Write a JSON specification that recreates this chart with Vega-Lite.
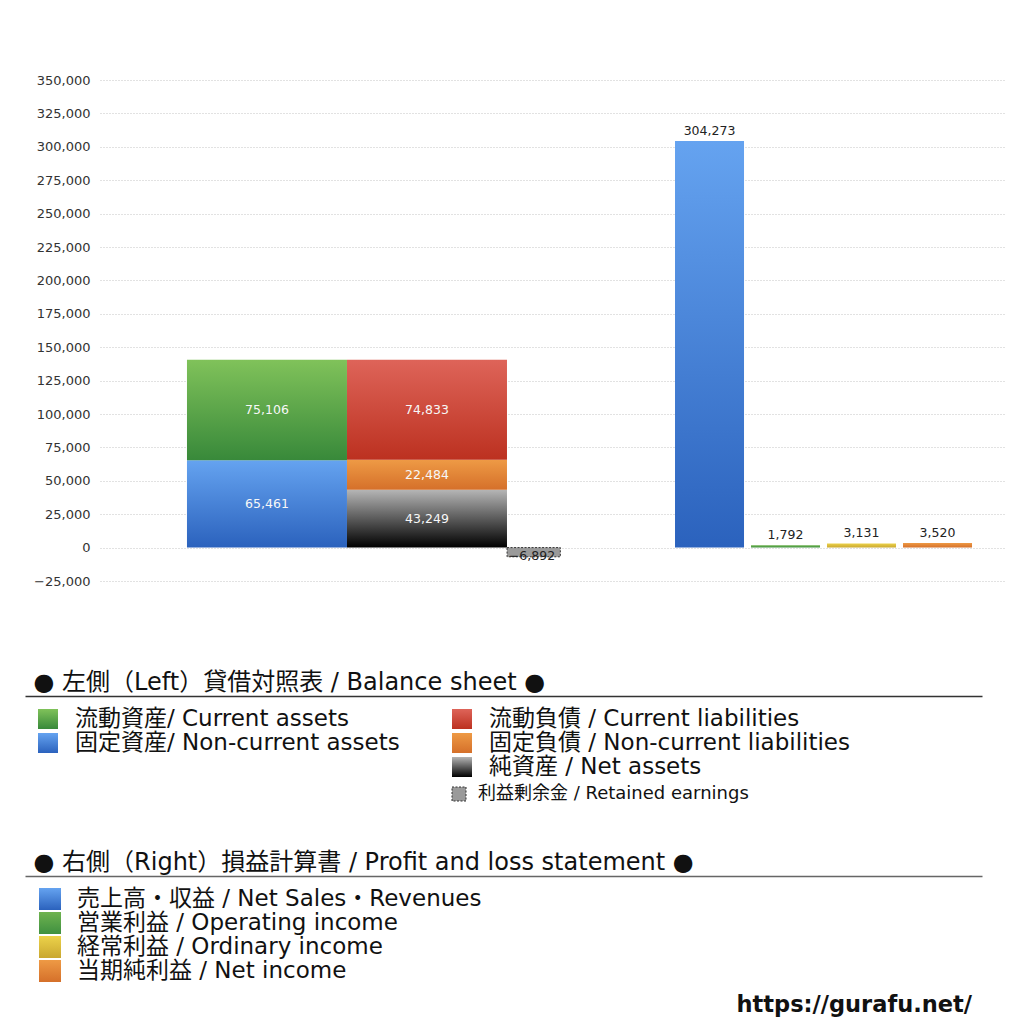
{
  "$schema": "https://vega.github.io/schema/vega-lite/v6.json",
  "padding": {"left": 25, "top": 74, "right": 10, "bottom": 5},
  "config": {
    "font": "DejaVu Sans, Noto Sans CJK JP",
    "view": {"stroke": null},
    "axisY": {"grid": true, "gridColor": "#c4c4c4", "gridDash": [1, 2], "domain": false, "ticks": false, "labelFontSize": 13, "labelColor": "#333", "labelPadding": 10, "minExtent": 74}
  },
  "datasets": {
    "bs": [
      {"side": "資産", "item": "固定資産", "value": 65461, "rank": 1},
      {"side": "資産", "item": "流動資産", "value": 75106, "rank": 2},
      {"side": "負債・純資産", "item": "純資産", "value": 43249, "rank": 1},
      {"side": "負債・純資産", "item": "固定負債", "value": 22484, "rank": 2},
      {"side": "負債・純資産", "item": "流動負債", "value": 74833, "rank": 3},
      {"side": "利益剰余金", "item": "利益剰余金", "value": -6892, "rank": 1}
    ],
    "pl": [
      {"item": "売上高", "value": 304273},
      {"item": "営業利益", "value": 1792},
      {"item": "経常利益", "value": 3131},
      {"item": "当期純利益", "value": 3520}
    ],
    "legendBS": [
      {"col": "L", "line": 1, "key": "流動資産", "label": "流動資産/ Current assets"},
      {"col": "L", "line": 2, "key": "固定資産", "label": "固定資産/ Non-current assets"},
      {"col": "R", "line": 1, "key": "流動負債", "label": "流動負債 /  Current liabilities"},
      {"col": "R", "line": 2, "key": "固定負債", "label": "固定負債 / Non-current liabilities"},
      {"col": "R", "line": 3, "key": "純資産", "label": "純資産 / Net assets"},
      {"col": "R", "line": 4, "key": "利益剰余金", "label": "利益剰余金 / Retained earnings"}
    ],
    "legendPL": [
      {"col": "L", "line": 1, "key": "売上高", "label": "売上高・収益 / Net Sales・Revenues"},
      {"col": "L", "line": 2, "key": "営業利益", "label": "営業利益 / Operating income"},
      {"col": "L", "line": 3, "key": "経常利益", "label": "経常利益 / Ordinary income"},
      {"col": "L", "line": 4, "key": "当期純利益", "label": "当期純利益 / Net income"}
    ]
  },
  "title": {"text": "https://gurafu.net/", "orient": "bottom", "anchor": "end", "font": "DejaVu Sans", "fontSize": 22.5, "fontWeight": "bold", "color": "#111", "dx": -33, "offset": 0},
  "spacing": 82,
  "vconcat": [
    {
      "spacing": 0,
      "hconcat": [
        {
          "width": 1,
          "height": 501,
          "view": {"fill": "#ffffff", "stroke": null},
          "data": {"values": []},
          "mark": "point"
        },
        {
          "width": 905,
          "height": 501,
          "resolve": {"scale": {"x": "independent"}},
          "layer": [
            {
              "data": {"name": "bs"},
              "layer": [
                {
                  "transform": [{"filter": "datum.side !== '利益剰余金'"}],
                  "mark": {"type": "bar"},
                  "encoding": {
                    "x": {"field": "side", "type": "nominal", "axis": null, "scale": {"domain": ["資産", "負債・純資産", "利益剰余金", "_s1", "_s2"], "paddingInner": 0, "paddingOuter": 0.328, "align": 0.8286}},
                    "y": {"field": "value", "type": "quantitative", "stack": "zero", "scale": {"domain": [-25000, 350000], "nice": false, "zero": false}, "axis": {"values": [-25000, 0, 25000, 50000, 75000, 100000, 125000, 150000, 175000, 200000, 225000, 250000, 275000, 300000, 325000, 350000], "labelExpr": "format(datum.value, ',')", "title": null}},
                    "order": {"field": "rank", "type": "quantitative"},
                    "detail": {"field": "item"},
                    "color": {
                      "condition": [
                        {"test": "datum.item === '流動資産'", "value": {"gradient": "linear", "x1": 0, "y1": 0, "x2": 0, "y2": 1, "stops": [{"offset": 0, "color": "#80c25a"}, {"offset": 1, "color": "#38893a"}]}},
                        {"test": "datum.item === '固定資産'", "value": {"gradient": "linear", "x1": 0, "y1": 0, "x2": 0, "y2": 1, "stops": [{"offset": 0, "color": "#65a3f0"}, {"offset": 1, "color": "#2b62bd"}]}},
                        {"test": "datum.item === '流動負債'", "value": {"gradient": "linear", "x1": 0, "y1": 0, "x2": 0, "y2": 1, "stops": [{"offset": 0, "color": "#de6459"}, {"offset": 1, "color": "#bc3120"}]}},
                        {"test": "datum.item === '固定負債'", "value": {"gradient": "linear", "x1": 0, "y1": 0, "x2": 0, "y2": 1, "stops": [{"offset": 0, "color": "#ee9a45"}, {"offset": 1, "color": "#d5702a"}]}}
                      ],
                      "value": {"gradient": "linear", "x1": 0, "y1": 0, "x2": 0, "y2": 1, "stops": [{"offset": 0, "color": "#b5b5b5"}, {"offset": 1, "color": "#000000"}]}
                    }
                  }
                },
                {
                  "transform": [
                    {"filter": "datum.side !== '利益剰余金'"},
                    {"stack": "value", "groupby": ["side"], "sort": [{"field": "rank"}], "as": ["lo", "hi"]},
                    {"fold": ["lo", "hi"], "as": ["edge", "pos"]}
                  ],
                  "mark": {"type": "text", "color": "#f7f7f7", "fontSize": 12.5, "baseline": "middle"},
                  "encoding": {
                    "x": {"field": "side", "type": "nominal", "axis": null, "scale": {"domain": ["資産", "負債・純資産", "利益剰余金", "_s1", "_s2"], "paddingInner": 0, "paddingOuter": 0.328, "align": 0.8286}},
                    "y": {"aggregate": "mean", "field": "pos", "type": "quantitative", "stack": null, "axis": {"values": [-25000, 0, 25000, 50000, 75000, 100000, 125000, 150000, 175000, 200000, 225000, 250000, 275000, 300000, 325000, 350000], "labelExpr": "format(datum.value, ',')", "title": null}},
                    "text": {"field": "value", "type": "quantitative", "format": ","},
                    "detail": {"field": "item"}
                  }
                },
                {
                  "transform": [{"filter": "datum.side === '利益剰余金'"}],
                  "mark": {"type": "bar", "width": {"band": 0.333}, "xOffset": -53.3, "color": "#9a9a9a", "stroke": "#333", "strokeWidth": 1, "strokeDash": [2, 1.5]},
                  "encoding": {
                    "x": {"field": "side", "type": "nominal", "axis": null, "scale": {"domain": ["資産", "負債・純資産", "利益剰余金", "_s1", "_s2"], "paddingInner": 0, "paddingOuter": 0.328, "align": 0.8286}},
                    "y": {"field": "value", "type": "quantitative", "axis": {"values": [-25000, 0, 25000, 50000, 75000, 100000, 125000, 150000, 175000, 200000, 225000, 250000, 275000, 300000, 325000, 350000], "labelExpr": "format(datum.value, ',')", "title": null}}
                  }
                },
                {
                  "transform": [{"filter": "datum.side === '利益剰余金'"}],
                  "mark": {"type": "text", "xOffset": -55, "color": "#222", "fontSize": 12.5, "baseline": "middle", "dy": -1},
                  "encoding": {
                    "x": {"field": "side", "type": "nominal", "axis": null, "scale": {"domain": ["資産", "負債・純資産", "利益剰余金", "_s1", "_s2"], "paddingInner": 0, "paddingOuter": 0.328, "align": 0.8286}},
                    "y": {"field": "value", "type": "quantitative", "stack": null, "axis": {"values": [-25000, 0, 25000, 50000, 75000, 100000, 125000, 150000, 175000, 200000, 225000, 250000, 275000, 300000, 325000, 350000], "labelExpr": "format(datum.value, ',')", "title": null}},
                    "text": {"field": "value", "type": "quantitative", "format": ","}
                  }
                }
              ]
            },
            {
              "data": {"name": "pl"},
              "layer": [
                {
                  "mark": {"type": "bar"},
                  "encoding": {
                    "x": {"field": "item", "type": "nominal", "axis": null, "scale": {"domain": ["_p1", "_p2", "_p3", "_p4", "_p5", "_p6", "_p7", "売上高", "営業利益", "経常利益", "当期純利益"], "paddingInner": 0.092, "paddingOuter": 0.5, "align": 0.566}},
                    "y": {"field": "value", "type": "quantitative", "axis": {"values": [-25000, 0, 25000, 50000, 75000, 100000, 125000, 150000, 175000, 200000, 225000, 250000, 275000, 300000, 325000, 350000], "labelExpr": "format(datum.value, ',')", "title": null}},
                    "color": {
                      "condition": [
                        {"test": "datum.item === '売上高'", "value": {"gradient": "linear", "x1": 0, "y1": 0, "x2": 0, "y2": 1, "stops": [{"offset": 0, "color": "#65a3f0"}, {"offset": 1, "color": "#2b62bd"}]}},
                        {"test": "datum.item === '営業利益'", "value": {"gradient": "linear", "x1": 0, "y1": 0, "x2": 0, "y2": 1, "stops": [{"offset": 0, "color": "#6fb34f"}, {"offset": 1, "color": "#3f9040"}]}},
                        {"test": "datum.item === '経常利益'", "value": {"gradient": "linear", "x1": 0, "y1": 0, "x2": 0, "y2": 1, "stops": [{"offset": 0, "color": "#ecd24a"}, {"offset": 1, "color": "#c9a730"}]}}
                      ],
                      "value": {"gradient": "linear", "x1": 0, "y1": 0, "x2": 0, "y2": 1, "stops": [{"offset": 0, "color": "#ee9a45"}, {"offset": 1, "color": "#d5702a"}]}
                    }
                  }
                },
                {
                  "mark": {"type": "text", "color": "#222", "fontSize": 12.5, "baseline": "bottom", "dy": -3},
                  "encoding": {
                    "x": {"field": "item", "type": "nominal", "axis": null, "scale": {"domain": ["_p1", "_p2", "_p3", "_p4", "_p5", "_p6", "_p7", "売上高", "営業利益", "経常利益", "当期純利益"], "paddingInner": 0.092, "paddingOuter": 0.5, "align": 0.566}},
                    "y": {"field": "value", "type": "quantitative", "axis": {"values": [-25000, 0, 25000, 50000, 75000, 100000, 125000, 150000, 175000, 200000, 225000, 250000, 275000, 300000, 325000, 350000], "labelExpr": "format(datum.value, ',')", "title": null}},
                    "text": {"field": "value", "type": "quantitative", "format": ","}
                  }
                }
              ]
            }
          ]
        }
      ]
    },
    {
      "spacing": 36,
      "vconcat": [
        {
          "width": 957,
          "height": 118,
          "data": {"name": "legendBS"},
          "encoding": {
            "x": {"field": "col", "type": "nominal", "scale": {"type": "point", "domain": ["L", "R"], "padding": 0.6558, "align": 0.04236}, "axis": {"orient": "top", "labels": false, "ticks": false, "grid": false, "domain": true, "domainColor": "#333", "domainWidth": 1.3, "title": "● 左側（Left）貸借対照表 / Balance sheet ●", "titleAnchor": "start", "titleAlign": "left", "titleX": 8, "titleFontSize": 24, "titleFontWeight": "normal", "titleColor": "#111", "titlePadding": 2}},
            "y": {"field": "line", "type": "ordinal", "scale": {"type": "point", "domain": [1, 2, 3, 4], "padding": 0.9583}, "axis": null}
          },
          "layer": [
            {
              "transform": [{"filter": "datum.key !== '利益剰余金'"}],
              "mark": {"type": "square", "size": 400, "opacity": 1},
              "encoding": {
                "color": {
                  "condition": [
                    {"test": "datum.key === '流動資産'", "value": {"gradient": "linear", "x1": 0, "y1": 0, "x2": 0, "y2": 1, "stops": [{"offset": 0, "color": "#80c25a"}, {"offset": 1, "color": "#38893a"}]}},
                    {"test": "datum.key === '固定資産'", "value": {"gradient": "linear", "x1": 0, "y1": 0, "x2": 0, "y2": 1, "stops": [{"offset": 0, "color": "#65a3f0"}, {"offset": 1, "color": "#2b62bd"}]}},
                    {"test": "datum.key === '流動負債'", "value": {"gradient": "linear", "x1": 0, "y1": 0, "x2": 0, "y2": 1, "stops": [{"offset": 0, "color": "#de6459"}, {"offset": 1, "color": "#bc3120"}]}},
                    {"test": "datum.key === '固定負債'", "value": {"gradient": "linear", "x1": 0, "y1": 0, "x2": 0, "y2": 1, "stops": [{"offset": 0, "color": "#ee9a45"}, {"offset": 1, "color": "#d5702a"}]}}
                  ],
                  "value": {"gradient": "linear", "x1": 0, "y1": 0, "x2": 0, "y2": 1, "stops": [{"offset": 0, "color": "#b5b5b5"}, {"offset": 1, "color": "#000000"}]}
                }
              }
            },
            {
              "transform": [{"filter": "datum.key === '利益剰余金'"}],
              "mark": {"type": "square", "size": 196, "opacity": 1, "fill": "#9a9a9a", "stroke": "#333", "strokeWidth": 1, "strokeDash": [2, 1.5], "xOffset": -3, "yOffset": 3}
            },
            {
              "transform": [{"filter": "datum.key !== '利益剰余金'"}],
              "mark": {"type": "text", "align": "left", "baseline": "middle", "dx": 27, "fontSize": 23, "color": "#111"},
              "encoding": {"text": {"field": "label"}}
            },
            {
              "transform": [{"filter": "datum.key === '利益剰余金'"}],
              "mark": {"type": "text", "align": "left", "baseline": "middle", "dx": 16, "dy": 3, "fontSize": 18, "color": "#111"},
              "encoding": {"text": {"field": "label"}}
            }
          ]
        },
        {
          "width": 957,
          "height": 118,
          "data": {"name": "legendPL"},
          "encoding": {
            "x": {"field": "col", "type": "nominal", "scale": {"type": "point", "domain": ["L", "R"], "padding": 0.6558, "align": 0.04236}, "axis": {"orient": "top", "labels": false, "ticks": false, "grid": false, "domain": true, "domainColor": "#666", "domainWidth": 1.6, "title": "● 右側（Right）損益計算書 / Profit and loss statement ●", "titleAnchor": "start", "titleAlign": "left", "titleX": 8, "titleFontSize": 24, "titleFontWeight": "normal", "titleColor": "#111", "titlePadding": 2}},
            "y": {"field": "line", "type": "ordinal", "scale": {"type": "point", "domain": [1, 2, 3, 4], "padding": 0.9583}, "axis": null}
          },
          "layer": [
            {
              "mark": {"type": "square", "size": 484, "opacity": 1, "xOffset": 2},
              "encoding": {
                "color": {
                  "condition": [
                    {"test": "datum.key === '売上高'", "value": {"gradient": "linear", "x1": 0, "y1": 0, "x2": 0, "y2": 1, "stops": [{"offset": 0, "color": "#65a3f0"}, {"offset": 1, "color": "#2b62bd"}]}},
                    {"test": "datum.key === '営業利益'", "value": {"gradient": "linear", "x1": 0, "y1": 0, "x2": 0, "y2": 1, "stops": [{"offset": 0, "color": "#6fb34f"}, {"offset": 1, "color": "#3f9040"}]}},
                    {"test": "datum.key === '経常利益'", "value": {"gradient": "linear", "x1": 0, "y1": 0, "x2": 0, "y2": 1, "stops": [{"offset": 0, "color": "#ecd24a"}, {"offset": 1, "color": "#c9a730"}]}}
                  ],
                  "value": {"gradient": "linear", "x1": 0, "y1": 0, "x2": 0, "y2": 1, "stops": [{"offset": 0, "color": "#ee9a45"}, {"offset": 1, "color": "#d5702a"}]}
                }
              }
            },
            {
              "mark": {"type": "text", "align": "left", "baseline": "middle", "dx": 29, "fontSize": 23, "color": "#111"},
              "encoding": {"text": {"field": "label"}}
            }
          ]
        }
      ]
    }
  ]
}
